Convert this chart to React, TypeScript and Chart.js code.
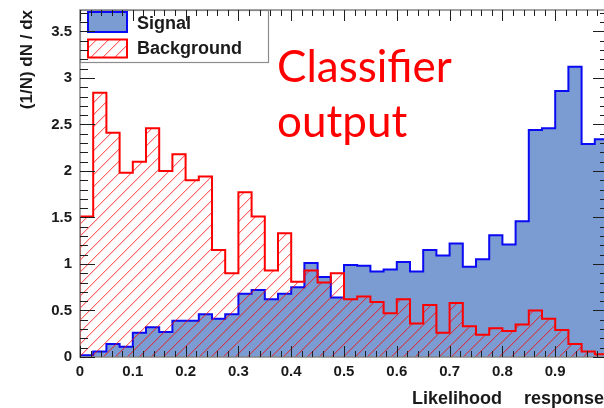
import React, { useEffect, useRef } from 'react';
import { Chart, registerables } from 'chart.js';

Chart.register(...registerables);

// ---- data (bin contents, 40 bins of width 0.025 on [0, 1]) ----
const BIN_WIDTH = 0.025;
const X_MIN = 0;
const X_MAX = 1;
const Y_MIN = 0;
const Y_MAX = 3.73;
const X_TICK_STEP = 0.1;
const Y_TICK_STEP = 0.5;

const signal = [
  0.02, 0.06, 0.14, 0.11, 0.26, 0.32, 0.27, 0.39, 0.39, 0.46,
  0.41, 0.46, 0.68, 0.72, 0.62, 0.68, 0.75, 1.01, 0.86, 0.64,
  0.99, 0.98, 0.92, 0.94, 1.02, 0.92, 1.15, 1.09, 1.22, 0.97,
  1.05, 1.31, 1.21, 1.46, 2.44, 2.46, 2.86, 3.12, 2.29, 2.34,
];

const background = [
  1.51, 2.84, 2.41, 1.98, 2.10, 2.46, 2.00, 2.18, 1.90, 1.94,
  1.15, 0.90, 1.77, 1.51, 0.93, 1.33, 0.81, 0.93, 0.80, 0.90,
  0.62, 0.65, 0.59, 0.47, 0.62, 0.36, 0.56, 0.26, 0.58, 0.33,
  0.24, 0.31, 0.28, 0.35, 0.50, 0.41, 0.29, 0.14, 0.06, 0.03,
];

const seriesLabels = ['Signal', 'Background'];
const yAxisTitle = '(1/N) dN / dx';
const xAxisTitleWords = ['Likelihood', 'response'];
const annotationLines = ['Classifier', 'output'];

const SIGNAL_FILL = 'rgb(123,155,211)';
const SIGNAL_LINE = 'rgb(10,10,245)';
const BKG_LINE = 'rgb(255,0,0)';

function histPoints(values: number[]) {
  const pts: { x: number; y: number }[] = [{ x: X_MIN, y: 0 }];
  values.forEach((v, i) => {
    const lo = X_MIN + i * BIN_WIDTH;
    const hi = lo + BIN_WIDTH;
    pts.push({ x: lo, y: v }, { x: hi, y: v });
  });
  pts.push({ x: X_MIN + values.length * BIN_WIDTH, y: 0 });
  return pts;
}

function makeHatch(): CanvasPattern | string {
  const s = 12;
  const c = document.createElement('canvas');
  c.width = s;
  c.height = s;
  const g = c.getContext('2d');
  if (!g) return 'rgba(255,0,0,0.2)';
  for (let i = 0; i < s; i++) {
    g.fillStyle = 'rgba(255,0,0,0.6)';
    g.fillRect(i, s - 1 - i, 1, 1);
    g.fillStyle = 'rgba(255,0,0,0.22)';
    g.fillRect(i, (s - i) % s, 1, 1);
  }
  const p = g.createPattern(c, 'repeat');
  return p || 'rgba(255,0,0,0.2)';
}

const fmt = (v: number) => String(Math.round(v * 10) / 10);

export default function App() {
  const ref = useRef<HTMLCanvasElement | null>(null);

  useEffect(() => {
    document.documentElement.style.overflow = 'hidden';
    if (!ref.current) return;
    const hatch = makeHatch();
    const O = 8; // page offset of canvas

    const decor = {
      id: 'decor',
      afterDatasetsDraw(chart: any) {
        const { ctx, chartArea: a, scales } = chart;
        const x = scales.x;
        const y = scales.y;
        ctx.save();

        // legend box
        const lx = 80 - O, ly = 10 - O, lw = 188, lh = 52;
        ctx.fillStyle = '#fff';
        ctx.fillRect(lx, ly, lw, lh);
        ctx.strokeStyle = '#8c8c8c';
        ctx.lineWidth = 1.2;
        ctx.strokeRect(lx + 0.5, ly + 0.5, lw, lh);
        // signal swatch
        ctx.fillStyle = SIGNAL_FILL;
        ctx.fillRect(88 - O, 12 - O, 39, 20);
        ctx.strokeStyle = SIGNAL_LINE;
        ctx.lineWidth = 2;
        ctx.strokeRect(88 - O, 12 - O, 39, 20);
        // background swatch
        ctx.fillStyle = '#fff';
        ctx.fillRect(88 - O, 39.5 - O, 39, 18);
        ctx.fillStyle = hatch as any;
        ctx.fillRect(88 - O, 39.5 - O, 39, 18);
        ctx.strokeStyle = BKG_LINE;
        ctx.strokeRect(88 - O, 39.5 - O, 39, 18);
        ctx.fillStyle = '#1a1a1a';
        ctx.font = 'bold 18px "Liberation Sans", Arial, sans-serif';
        ctx.textAlign = 'left';
        ctx.textBaseline = 'alphabetic';
        ctx.fillText(seriesLabels[0], 137 - O, 28.5 - O);
        ctx.fillText(seriesLabels[1], 137 - O, 53.5 - O);

        // frame
        ctx.strokeStyle = '#858585';
        ctx.lineWidth = 1.5;
        ctx.strokeRect(a.left, a.top, a.right - a.left, a.bottom - a.top);

        // ticks
        ctx.strokeStyle = '#1e1e1e';
        ctx.lineWidth = 1;
        ctx.beginPath();
        const nx = Math.round((X_MAX - X_MIN) / 0.02);
        for (let k = 0; k <= nx; k++) {
          const v = X_MIN + k * 0.02;
          const px = Math.round(x.getPixelForValue(v)) + 0.5;
          const len = k % 5 === 0 ? 11 : 6;
          ctx.moveTo(px, a.bottom);
          ctx.lineTo(px, a.bottom - len);
          ctx.moveTo(px, a.top);
          ctx.lineTo(px, a.top + len);
        }
        for (let k = 0; k * 0.1 <= Y_MAX + 1e-9; k++) {
          const v = k * 0.1;
          const py = Math.round(y.getPixelForValue(v)) + 0.5;
          const len = k % 5 === 0 ? 15 : 8;
          ctx.moveTo(a.left, py);
          ctx.lineTo(a.left + len, py);
          ctx.moveTo(a.right, py);
          ctx.lineTo(a.right - len, py);
        }
        ctx.stroke();
        ctx.restore();
      },
      afterDraw(chart: any) {
        const { ctx } = chart;
        ctx.save();
        // y title
        ctx.fillStyle = '#1a1a1a';
        ctx.font = 'bold 17px "Liberation Sans", Arial, sans-serif';
        ctx.translate(27.5 - O, 10 - O);
        ctx.rotate(-Math.PI / 2);
        ctx.textAlign = 'right';
        ctx.textBaseline = 'middle';
        ctx.fillText(yAxisTitle, 0, 0);
        ctx.setTransform(1, 0, 0, 1, 0, 0);
        // x title
        ctx.font = 'bold 18px "Liberation Sans", Arial, sans-serif';
        ctx.textAlign = 'left';
        ctx.textBaseline = 'alphabetic';
        ctx.fillText(xAxisTitleWords[0], 412 - O, 404 - O);
        ctx.fillText(xAxisTitleWords[1], 524 - O, 404 - O);
        // annotation
        ctx.fillStyle = '#ff0000';
        ctx.font = '44px Lato, "Open Sans", sans-serif';
        ctx.fillText(annotationLines[0], 277 - O, 82 - O);
        ctx.fillText(annotationLines[1], 277 - O, 137 - O);
        ctx.restore();
      },
    };

    const chart = new Chart(ref.current, {
      type: 'line',
      data: {
        datasets: [
          {
            label: seriesLabels[0],
            data: histPoints(signal),
            borderColor: SIGNAL_LINE,
            backgroundColor: SIGNAL_FILL,
            borderWidth: 2,
            fill: 'origin',
            pointRadius: 0,
            tension: 0,
            order: 2,
          },
          {
            label: seriesLabels[1],
            data: histPoints(background),
            borderColor: BKG_LINE,
            backgroundColor: hatch as any,
            borderWidth: 2,
            fill: 'origin',
            pointRadius: 0,
            tension: 0,
            order: 1,
          },
        ],
      },
      options: {
        animation: false,
        responsive: false,
        maintainAspectRatio: false,
        layout: { padding: { left: 0, right: 4, top: 2, bottom: 0 } },
        plugins: {
          legend: { display: false },
          tooltip: { enabled: false },
        },
        scales: {
          x: {
            type: 'linear',
            min: X_MIN,
            max: X_MAX,
            grid: { display: false, drawTicks: false },
            border: { display: false },
            ticks: {
              stepSize: X_TICK_STEP,
              autoSkip: false,
              maxRotation: 0,
              includeBounds: false,
              padding: 6,
              color: '#1a1a1a',
              font: { family: '"Liberation Sans", Arial, sans-serif', size: 15, weight: 'bold' },
              callback: (v: any) => (Math.abs(Number(v) - X_MAX) < 1e-9 ? '' : fmt(Number(v))),
            },
            afterFit: (s: any) => {
              s.height = 51;
              s.paddingLeft = 0;
              s.paddingRight = 0;
            },
          },
          y: {
            type: 'linear',
            min: Y_MIN,
            max: Y_MAX,
            grid: { display: false, drawTicks: false },
            border: { display: false },
            ticks: {
              stepSize: Y_TICK_STEP,
              autoSkip: false,
              includeBounds: false,
              padding: 8,
              color: '#1a1a1a',
              font: { family: '"Liberation Sans", Arial, sans-serif', size: 15, weight: 'bold' },
              callback: (v: any) => fmt(Number(v)),
            },
            afterFit: (s: any) => {
              s.width = 72;
              s.paddingTop = 0;
              s.paddingBottom = 0;
            },
          },
        },
      } as any,
      plugins: [decor],
    });

    return () => chart.destroy();
  }, []);

  return (
    <div
      style={{
        position: 'fixed',
        left: 0,
        top: 0,
        width: 604,
        height: 408,
        overflow: 'hidden',
      }}
    >
      <canvas
        ref={ref}
        width={604}
        height={400}
        style={{ display: 'block', position: 'absolute', left: 8, top: 8 }}
      />
    </div>
  );
}
